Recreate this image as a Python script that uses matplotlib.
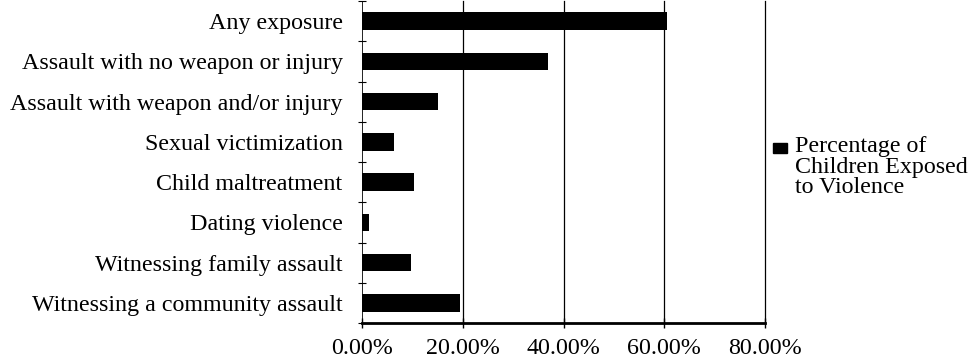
import matplotlib
matplotlib.use("Agg")
import matplotlib.pyplot as plt
from matplotlib.patches import Rectangle
from matplotlib.ticker import FuncFormatter, FixedLocator
import numpy as np

categories = [
    "Any exposure",
    "Assault with no weapon or injury",
    "Assault with weapon and/or injury",
    "Sexual victimization",
    "Child maltreatment",
    "Dating violence",
    "Witnessing family assault",
    "Witnessing a community assault",
]
values = [60.6, 36.9, 15.0, 6.3, 10.4, 1.4, 9.7, 19.5]
xticks = [0, 20, 40, 60, 80]
legend_label = "Percentage of\nChildren Exposed\nto Violence"

plt.rcParams['font.family'] = ['Liberation Serif', 'DejaVu Serif']
FS = 17.3

fig = plt.figure(figsize=(9.79, 3.58), dpi=100)
ax = fig.add_axes([362/979, 1 - 323/358, (765-362)/979, (323-1)/358])

y = np.arange(len(categories))
ax.barh(y, values, height=0.44, color='black')
ax.set_ylim(len(categories) - 0.5, -0.5)
ax.set_xlim(0, 80)

ax.set_yticks(y)
ax.set_yticklabels(categories, fontsize=FS)
ax.yaxis.set_minor_locator(FixedLocator(np.arange(len(categories) + 1) - 0.5))
ax.tick_params(axis='y', which='major', length=0, pad=14)
ax.tick_params(axis='y', which='minor', length=6, direction='inout', width=0.8)

ax.set_xticks(xticks)
ax.xaxis.set_major_formatter(FuncFormatter(lambda v, p: f"{v:.2f}%"))
ax.tick_params(axis='x', which='major', length=7, direction='inout', width=1, pad=7, labelsize=FS)

for xv in xticks[1:]:
    ax.axvline(xv, color='black', lw=0.9, zorder=0, clip_on=False)

for s in ['top', 'right']:
    ax.spines[s].set_visible(False)
ax.spines['left'].set_linewidth(0.6)
ax.spines['bottom'].set_linewidth(2.0)

# legend
fig.patches.append(Rectangle((773/979, 1 - 153/358), 14/979, 10/358,
                             transform=fig.transFigure, color='black'))
fig.text(795/979, 1 - 136/358, legend_label, fontsize=FS, va='top', ha='left',
         linespacing=0.97)

fig.savefig("out.png", dpi=100)
